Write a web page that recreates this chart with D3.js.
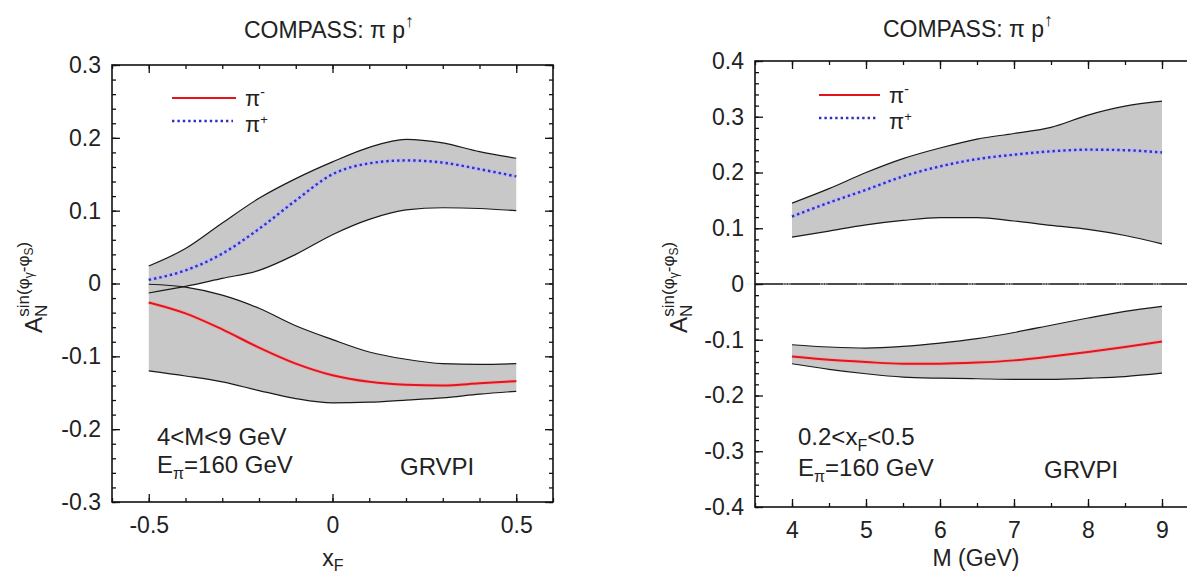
<!DOCTYPE html>
<html>
<head>
<meta charset="utf-8">
<script src="https://cdn.jsdelivr.net/npm/d3@7"></script>
<style>
  body { margin: 0; background: #fff; }
  text { font-family: "Liberation Sans", Arial, sans-serif; fill: #222; }
</style>
</head>
<body>
<div id="chart"></div>
<script>
/**
 * CONSTANTS AND GLOBALS
 * */
const width = 1187,
  height = 577;

// left panel: A_N vs x_F
const xfValues = [-0.5, -0.4, -0.3, -0.2, -0.1, 0, 0.1, 0.2, 0.3, 0.4, 0.5];
const xfPlusUpper = [0.024, 0.048, 0.083, 0.117, 0.144, 0.167, 0.187, 0.198, 0.193, 0.181, 0.172];
const xfPlusCentral = [0.005, 0.018, 0.041, 0.075, 0.114, 0.150, 0.165, 0.169, 0.166, 0.157, 0.147];
const xfPlusLower = [-0.013, -0.004, 0.007, 0.018, 0.040, 0.067, 0.088, 0.101, 0.104, 0.103, 0.100];
const xfMinusUpper = [-0.001, -0.005, -0.016, -0.034, -0.058, -0.077, -0.094, -0.104, -0.110, -0.111, -0.110];
const xfMinusCentral = [-0.026, -0.041, -0.063, -0.088, -0.110, -0.126, -0.135, -0.139, -0.140, -0.137, -0.134];
const xfMinusLower = [-0.120, -0.127, -0.135, -0.147, -0.158, -0.164, -0.163, -0.160, -0.157, -0.152, -0.148];
const xfTicks = [-0.5, 0, 0.5];
const xfYTicks = [-0.3, -0.2, -0.1, 0, 0.1, 0.2, 0.3];

// right panel: A_N vs M
const mValues = [4, 4.5, 5, 5.5, 6, 6.5, 7, 7.5, 8, 8.5, 9];
const mPlusUpper = [0.145, 0.171, 0.200, 0.225, 0.244, 0.260, 0.270, 0.281, 0.303, 0.319, 0.328];
const mPlusCentral = [0.121, 0.146, 0.169, 0.193, 0.211, 0.224, 0.232, 0.238, 0.241, 0.240, 0.236];
const mPlusLower = [0.084, 0.095, 0.106, 0.114, 0.119, 0.119, 0.113, 0.105, 0.098, 0.087, 0.072];
const mMinusUpper = [-0.109, -0.113, -0.115, -0.112, -0.106, -0.098, -0.087, -0.074, -0.061, -0.049, -0.040];
const mMinusCentral = [-0.130, -0.136, -0.140, -0.143, -0.143, -0.141, -0.137, -0.130, -0.122, -0.113, -0.103];
const mMinusLower = [-0.143, -0.153, -0.161, -0.167, -0.169, -0.170, -0.171, -0.171, -0.169, -0.166, -0.160];
const mTicks = [4, 5, 6, 7, 8, 9];
const mYTicks = [-0.4, -0.3, -0.2, -0.1, 0, 0.1, 0.2, 0.3, 0.4];

const panels = [
  {
    left: 112, right: 553, top: 65, bottom: 502,
    xDomain: [-0.6, 0.6], yDomain: [-0.3, 0.3],
    xs: xfValues,
    plus: [xfPlusLower, xfPlusCentral, xfPlusUpper],
    minus: [xfMinusLower, xfMinusCentral, xfMinusUpper],
    xTicks: xfTicks, xMinor: 12, yTicks: xfYTicks, yMinor: 30,
    titleX: 329, titleY: 38,
    ylabelX: 42,
    xlabelX: 333,
    xlabel: [{ t: "x" }, { t: "F", size: 16, shift: 5 }],
    legend: { x0: 172, x1: 236, y: 98 },
    notes: [
      { x: 157, y: 445, parts: [{ t: "4<M<9 GeV" }] },
      { x: 157, y: 473, parts: [{ t: "E" }, { t: "π", size: 16, shift: 6 }, { t: "=160 GeV" }] },
      { x: 400, y: 475, parts: [{ t: "GRVPI" }] }
    ],
    zeroLine: false
  },
  {
    left: 755, right: 1199, top: 61, bottom: 507,
    xDomain: [3.5, 9.5], yDomain: [-0.4, 0.4],
    xs: mValues,
    plus: [mPlusLower, mPlusCentral, mPlusUpper],
    minus: [mMinusLower, mMinusCentral, mMinusUpper],
    xTicks: mTicks, xMinor: 12, yTicks: mYTicks, yMinor: 40,
    titleX: 968, titleY: 37,
    ylabelX: 687,
    xlabelX: 976,
    xlabel: [{ t: "M (GeV)" }],
    legend: { x0: 819, x1: 880, y: 95 },
    notes: [
      { x: 798, y: 445, parts: [{ t: "0.2<x" }, { t: "F", size: 16, shift: 6 }, { t: "<0.5" }] },
      { x: 798, y: 476, parts: [{ t: "E" }, { t: "π", size: 16, shift: 6 }, { t: "=160 GeV" }] },
      { x: 1044, y: 478, parts: [{ t: "GRVPI" }] }
    ],
    zeroLine: true
  }
];

const svg = d3.select("#chart")
  .append("svg")
  .attr("width", width)
  .attr("height", height);

svg.append("rect").attr("width", width).attr("height", height).attr("fill", "#fff");

// writes text pieces with sub/superscripts as tspans
function addParts(text, parts, baseSize) {
  let shift = 0;
  parts.forEach(p => {
    const target = p.shift || 0;
    const ts = text.append("tspan")
      .text(p.t)
      .attr("font-size", p.size || baseSize)
      .attr("dy", target - shift);
    if (p.dx) ts.attr("dx", p.dx);
    shift = target;
  });
}

panels.forEach(drawPanel);

function drawPanel(p) {
  const x = d3.scaleLinear().domain(p.xDomain).range([p.left, p.right]);
  const y = d3.scaleLinear().domain(p.yDomain).range([p.bottom, p.top]);
  const g = svg.append("g");

  const rows = p.xs.map((v, i) => ({
    x: v,
    pl: p.plus[0][i], pc: p.plus[1][i], pu: p.plus[2][i],
    ml: p.minus[0][i], mc: p.minus[1][i], mu: p.minus[2][i]
  }));

  const curve = d3.curveMonotoneX;
  const area = (lo, hi) => d3.area().x(d => x(d.x)).y0(d => y(d[lo])).y1(d => y(d[hi])).curve(curve);
  const line = key => d3.line().x(d => x(d.x)).y(d => y(d[key])).curve(curve);

  // bands
  g.append("path").datum(rows).attr("d", area("pl", "pu")).attr("fill", "#c8c8c8");
  g.append("path").datum(rows).attr("d", area("ml", "mu")).attr("fill", "#c8c8c8");

  // zero axis
  if (p.zeroLine) {
    g.append("line")
      .attr("x1", p.left).attr("x2", p.right)
      .attr("y1", y(0)).attr("y2", y(0))
      .attr("stroke", "#111").attr("stroke-width", 1.6);
    g.selectAll(".zdot")
      .data(x.ticks(p.xMinor))
      .join("line")
      .attr("x1", d => x(d) - 9).attr("x2", d => x(d) - 1)
      .attr("y1", y(0)).attr("y2", y(0))
      .attr("stroke", "#e6e6e6").attr("stroke-width", 1)
      .attr("stroke-dasharray", "1.5,1");
  }

  // band edges
  ["pl", "pu", "ml", "mu"].forEach(k => {
    g.append("path").datum(rows).attr("d", line(k))
      .attr("fill", "none").attr("stroke", "#1a1a1a").attr("stroke-width", 1.2);
  });

  // central curves
  g.append("path").datum(rows).attr("d", line("mc"))
    .attr("fill", "none").attr("stroke", "#f2a0a0").attr("stroke-width", 4).attr("opacity", 0.6);
  g.append("path").datum(rows).attr("d", line("mc"))
    .attr("fill", "none").attr("stroke", "#e3141e").attr("stroke-width", 2);
  g.append("path").datum(rows).attr("d", line("pc"))
    .attr("fill", "none").attr("stroke", "#b8b8f4").attr("stroke-width", 4).attr("opacity", 0.7);
  g.append("path").datum(rows).attr("d", line("pc"))
    .attr("fill", "none").attr("stroke", "#3030c0").attr("stroke-width", 2.4)
    .attr("stroke-dasharray", "2.4,3");

  // frame
  g.append("rect")
    .attr("x", p.left).attr("y", p.top)
    .attr("width", p.right - p.left).attr("height", p.bottom - p.top)
    .attr("fill", "none").attr("stroke", "#111").attr("stroke-width", 1.6);

  const style = sel => {
    sel.select(".domain").remove();
    sel.selectAll("line").attr("stroke", "#111").attr("stroke-width", 1.3);
    sel.selectAll("text").attr("font-size", 23).attr("font-family", "Liberation Sans, Arial, sans-serif").attr("fill", "#222");
  };
  const fmt = d => String(d);

  // minor ticks on all sides
  [
    [d3.axisBottom(x), `translate(0,${p.bottom})`, p.xMinor],
    [d3.axisTop(x), `translate(0,${p.top})`, p.xMinor],
    [d3.axisLeft(y), `translate(${p.left},0)`, p.yMinor],
    [d3.axisRight(y), `translate(${p.right},0)`, p.yMinor]
  ].forEach(([ax, tr, n]) => {
    g.append("g").attr("transform", tr)
      .call(ax.ticks(n).tickSizeInner(-4).tickSizeOuter(0).tickFormat(""))
      .call(style);
  });

  // major ticks with labels
  g.append("g").attr("transform", `translate(0,${p.bottom})`)
    .call(d3.axisBottom(x).tickValues(p.xTicks).tickSizeInner(-8).tickSizeOuter(0).tickPadding(15).tickFormat(fmt))
    .call(style);
  g.append("g").attr("transform", `translate(0,${p.top})`)
    .call(d3.axisTop(x).tickValues(p.xTicks).tickSizeInner(-8).tickSizeOuter(0).tickFormat(""))
    .call(style);
  g.append("g").attr("transform", `translate(${p.left},0)`)
    .call(d3.axisLeft(y).tickValues(p.yTicks).tickSizeInner(-8).tickSizeOuter(0).tickPadding(11).tickFormat(fmt))
    .call(style);
  g.append("g").attr("transform", `translate(${p.right},0)`)
    .call(d3.axisRight(y).tickValues(p.yTicks).tickSizeInner(-8).tickSizeOuter(0).tickFormat(""))
    .call(style);

  // title
  const title = g.append("text")
    .attr("x", p.titleX).attr("y", p.titleY)
    .attr("text-anchor", "middle");
  addParts(title, [{ t: "COMPASS: π p" }, { t: "↑", size: 18, shift: -11 }], 23);

  // x label
  const xl = g.append("text")
    .attr("x", p.xlabelX)
    .attr("y", 566)
    .attr("text-anchor", "middle");
  addParts(xl, p.xlabel, 23);

  // y label
  const yl = g.append("text")
    .attr("transform", `translate(${p.ylabelX},283) rotate(-90)`)
    .attr("x", -50).attr("y", 0);
  addParts(yl, [
    { t: "A" },
    { t: "N", size: 17, shift: 5 },
    { t: "sin(φ", size: 17, shift: -13, dx: -12 },
    { t: "γ", size: 12, shift: -9 },
    { t: "-φ", size: 17, shift: -13 },
    { t: "S", size: 12, shift: -9 },
    { t: ")", size: 17, shift: -13 }
  ], 24);

  // legend
  const lg = p.legend;
  g.append("rect")
    .attr("x", lg.x0 - 20).attr("y", lg.y - 14)
    .attr("width", lg.x1 - lg.x0 + 70).attr("height", 46)
    .attr("fill", "#fff");
  g.append("line").attr("x1", lg.x0).attr("x2", lg.x1).attr("y1", lg.y).attr("y2", lg.y)
    .attr("stroke", "#e3141e").attr("stroke-width", 2);
  g.append("line").attr("x1", lg.x0).attr("x2", lg.x1 - 3).attr("y1", lg.y + 23).attr("y2", lg.y + 23)
    .attr("stroke", "#3030c0").attr("stroke-width", 2.4).attr("stroke-dasharray", "2.4,3");
  const t1 = g.append("text").attr("x", lg.x1 + 9).attr("y", lg.y + 8);
  addParts(t1, [{ t: "π" }, { t: "-", size: 14, shift: -9 }], 22);
  const t2 = g.append("text").attr("x", lg.x1 + 9).attr("y", lg.y + 34);
  addParts(t2, [{ t: "π" }, { t: "+", size: 13, shift: -8 }], 22);

  // annotations
  p.notes.forEach(n => {
    const t = g.append("text").attr("x", n.x).attr("y", n.y);
    addParts(t, n.parts, 24);
  });
}
</script>
</body>
</html>
